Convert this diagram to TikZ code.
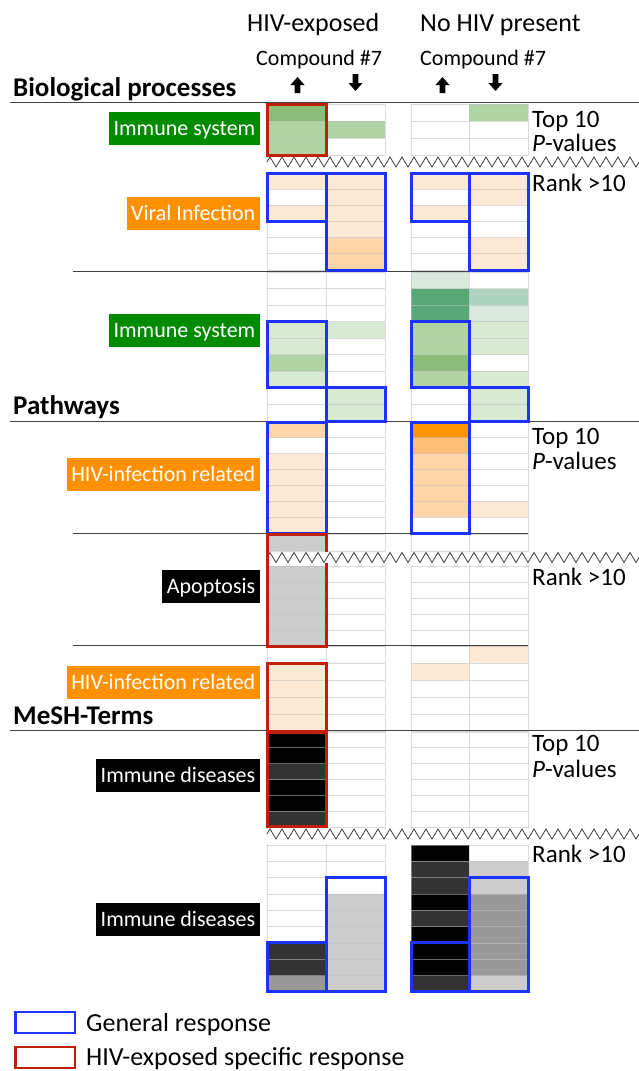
\documentclass[tikz,border=0pt]{standalone}
\usepackage{fontspec}
\setmainfont{Carlito}
\usetikzlibrary{decorations.pathmorphing}
\definecolor{gA}{HTML}{D9EAD3}
\definecolor{gB}{HTML}{B0D4A4}
\definecolor{gC}{HTML}{8BBC78}
\definecolor{gD}{HTML}{57A777}
\definecolor{gE}{HTML}{AED3BF}
\definecolor{gF}{HTML}{D9E9DE}
\definecolor{oA}{HTML}{FDE9D4}
\definecolor{oB}{HTML}{FDD5A8}
\definecolor{oC}{HTML}{FFBF7A}
\definecolor{oD}{HTML}{FF9400}
\definecolor{kA}{HTML}{CCCCCC}
\definecolor{kB}{HTML}{999999}
\definecolor{kC}{HTML}{333333}
\definecolor{kD}{HTML}{000000}
\definecolor{labgreen}{HTML}{008A00}
\definecolor{laborange}{HTML}{FF9100}
\definecolor{bluebox}{HTML}{1E32FF}
\definecolor{redbox}{HTML}{C0200A}
\definecolor{gridc}{HTML}{BEBEBE}
\definecolor{sepc}{HTML}{404040}
\def\colLi{267}\def\colRi{326}
\def\colLii{326}\def\colRii{385}
\def\colLiii{411}\def\colRiii{469}
\def\colLiv{469}\def\colRiv{528}
% sections: top y, row height, number of rows
\def\syA{104}\def\shA{17}\def\snA{3}
\def\syB{173}\def\shB{16.17}\def\snB{6}
\def\syC{272}\def\shC{16.56}\def\snC{9}
\def\syD{422}\def\shD{15.86}\def\snD{7}
\def\syP{534}\def\shP{17}\def\snP{1}
\def\syE{566}\def\shE{16}\def\snE{5}
\def\syF{646}\def\shF{17}\def\snF{5}
\def\syG{732}\def\shG{15.83}\def\snG{6}
\def\syH{845}\def\shH{16.33}\def\snH{9}
\newcommand\cf[4]{%
  \pgfmathsetmacro\cya{\csname sy#3\endcsname+(#2-1)*\csname sh#3\endcsname}%
  \pgfmathsetmacro\cyb{\cya+\csname sh#3\endcsname}%
  \fill[#4] (\csname colL\romannumeral#1\endcsname,\cya) rectangle (\csname colR\romannumeral#1\endcsname,\cyb);}
\newcommand\bx[5]{%
  \pgfmathsetmacro\cya{\csname sy#4\endcsname+(#2-1)*\csname sh#4\endcsname}%
  \pgfmathsetmacro\cyb{\csname sy#4\endcsname+#3*\csname sh#4\endcsname}%
  \draw[#5] (\csname colL\romannumeral#1\endcsname,\cya) rectangle (\csname colR\romannumeral#1\endcsname,\cyb);}
\newcommand\sgrid[1]{%
  \edef\gn{\csname sn#1\endcsname}%
  \foreach \gi in {0,...,\gn}{%
    \pgfmathsetmacro\gy{\csname sy#1\endcsname+\gi*\csname sh#1\endcsname}%
    \draw[gridline] (267,\gy) -- (385,\gy) (411,\gy) -- (528,\gy);}}
\newcommand\uparr[1]{\fill (#1-7,85) -- (#1,77) -- (#1+7,85) -- (#1+2.8,85) -- (#1+2.8,93) -- (#1-2.8,93) -- (#1-2.8,85) -- cycle;}
\newcommand\dnarr[1]{\fill (#1-7,83) -- (#1,91) -- (#1+7,83) -- (#1+2.8,83) -- (#1+2.8,74) -- (#1-2.8,74) -- (#1-2.8,83) -- cycle;}
\tikzset{
  gridline/.style={draw=gridc, draw opacity=0.55, line width=0.8},
  sepline/.style={draw=sepc, line width=1},
  bluerect/.style={draw=bluebox, line width=3},
  redrect/.style={draw=redbox, line width=3},
  zig/.style={draw=sepc, line width=0.8, decorate, decoration={zigzag, segment length=12, amplitude=5}},
  lab/.style={anchor=east, inner xsep=4.5, inner ysep=0, minimum height=33, text=white,
    font=\fontsize{22}{24}\selectfont, text height=14, text depth=0},
  txt/.style={inner sep=0, anchor=base west},
  head/.style={txt, font=\fontsize{26}{28}\selectfont},
  comp/.style={txt, font=\fontsize{22}{24}\selectfont},
  sect/.style={txt, font=\fontsize{27}{29}\selectfont\bfseries},
  side/.style={txt, font=\fontsize{25}{27}\selectfont},
  leg/.style={txt, font=\fontsize{26}{28}\selectfont},
}
\begin{document}
\begin{tikzpicture}[x=1pt,y=-1pt]
\useasboundingbox (0,0) rectangle (639,1071);
\fill[white] (0,0) rectangle (639,1071);
% ---------- cell fills ----------
\cf{1}{1}{A}{gC}\cf{1}{2}{A}{gB}\cf{1}{3}{A}{gB}\cf{2}{2}{A}{gB}\cf{4}{1}{A}{gB}
\cf{1}{1}{B}{oA}\cf{1}{3}{B}{oA}
\foreach \r in {1,...,4}{\cf{2}{\r}{B}{oA}}
\cf{2}{5}{B}{oB}\cf{2}{6}{B}{oB}
\cf{3}{1}{B}{oA}\cf{3}{3}{B}{oA}
\foreach \r in {1,2,5,6}{\cf{4}{\r}{B}{oA}}
\cf{1}{4}{C}{gA}\cf{1}{5}{C}{gA}\cf{1}{6}{C}{gB}\cf{1}{7}{C}{gA}
\foreach \r in {4,8,9}{\cf{2}{\r}{C}{gA}}
\cf{3}{1}{C}{gF}\cf{3}{2}{C}{gD}\cf{3}{3}{C}{gD}\cf{3}{4}{C}{gB}\cf{3}{5}{C}{gB}\cf{3}{6}{C}{gC}\cf{3}{7}{C}{gB}
\cf{4}{2}{C}{gE}\cf{4}{3}{C}{gF}
\foreach \r in {4,5,7,8,9}{\cf{4}{\r}{C}{gA}}
\cf{1}{1}{D}{oB}
\foreach \r in {3,...,7}{\cf{1}{\r}{D}{oA}}
\cf{3}{1}{D}{oD}\cf{3}{2}{D}{oC}
\foreach \r in {3,...,6}{\cf{3}{\r}{D}{oB}}
\cf{4}{6}{D}{oA}
\cf{1}{1}{P}{kA}
\foreach \r in {1,...,5}{\cf{1}{\r}{E}{kA}}
\cf{4}{1}{F}{oA}\cf{3}{2}{F}{oA}
\foreach \r in {2,...,5}{\cf{1}{\r}{F}{oA}}
\cf{1}{1}{G}{kD}\cf{1}{2}{G}{kD}\cf{1}{3}{G}{kC}\cf{1}{4}{G}{kD}\cf{1}{5}{G}{kD}\cf{1}{6}{G}{kC}
\cf{1}{7}{H}{kC}\cf{1}{8}{H}{kC}\cf{1}{9}{H}{kB}
\foreach \r in {4,...,9}{\cf{2}{\r}{H}{kA}}
\cf{3}{1}{H}{kD}\cf{3}{2}{H}{kC}\cf{3}{3}{H}{kC}\cf{3}{4}{H}{kD}\cf{3}{5}{H}{kC}
\cf{3}{6}{H}{kD}\cf{3}{7}{H}{kD}\cf{3}{8}{H}{kD}\cf{3}{9}{H}{kC}
\cf{4}{2}{H}{kA}\cf{4}{3}{H}{kA}
\foreach \r in {4,...,8}{\cf{4}{\r}{H}{kB}}
\cf{4}{9}{H}{kA}
% ---------- grid ----------
\foreach \s in {A,B,C,D,P,E,F,G,H}{\sgrid{\s}}
\foreach \gx in {267,326,385,411,469,528}{\draw[gridline] (\gx,104) -- (\gx,992);}
% ---------- section lines ----------
\draw[sepline] (10,102.5) -- (639,102.5);
\draw[sepline] (73,271.3) -- (528,271.3);
\draw[sepline] (10,421.5) -- (639,421.5);
\draw[sepline] (73,533.8) -- (528,533.8);
\draw[sepline] (73,645.8) -- (528,645.8);
\draw[sepline] (10,730.7) -- (639,730.7);
% ---------- zigzags ----------
\fill[white] (262,155.5) rectangle (639,172);
\fill[white] (262,551.5) rectangle (639,565);
\fill[white] (262,828.5) rectangle (639,844);
\draw[zig] (267,162) -- (639,162);
\draw[zig] (267,557.5) -- (639,557.5);
\draw[zig] (267,834) -- (639,834);
% ---------- response boxes ----------
\bx{1}{1}{3}{A}{redrect}
\bx{1}{1}{3}{B}{bluerect}\bx{2}{1}{6}{B}{bluerect}\bx{3}{1}{3}{B}{bluerect}\bx{4}{1}{6}{B}{bluerect}
\bx{1}{4}{7}{C}{bluerect}\bx{2}{8}{9}{C}{bluerect}\bx{3}{4}{7}{C}{bluerect}\bx{4}{8}{9}{C}{bluerect}
\bx{1}{1}{7}{D}{bluerect}\bx{3}{1}{7}{D}{bluerect}
\draw[redrect] (326,551.5) -- (326,534) -- (267,534) -- (267,646) -- (326,646) -- (326,563);
\bx{1}{2}{5}{F}{redrect}
\bx{1}{1}{6}{G}{redrect}
\bx{1}{7}{9}{H}{bluerect}\bx{2}{3}{9}{H}{bluerect}\bx{3}{7}{9}{H}{bluerect}\bx{4}{3}{9}{H}{bluerect}
% ---------- headings ----------
\node[head] (hexp) at (247,31) {HIV-exposed};
\node[head] (hno) at (420,31) {No HIV present};
\node[comp] (cmpA) at (256,65) {Compound \#7};
\node[comp] (cmpB) at (420,65) {Compound \#7};
\uparr{297.5}\dnarr{355.5}\uparr{442.5}\dnarr{495.5}
\node[sect] (sbp) at (13,96) {Biological processes};
\node[sect] (spw) at (13,414) {Pathways};
\node[sect] (smt) at (13,724) {MeSH-Terms};
% ---------- category labels ----------
\node[lab, fill=labgreen] (l1) at (260,128) {Immune system};
\node[lab, fill=laborange] (l2) at (260,213.5) {Viral Infection};
\node[lab, fill=labgreen] (l3) at (260,330) {Immune system};
\node[lab, fill=laborange] (l4) at (260,474) {HIV-infection related};
\node[lab, fill=black] (l5) at (260,586.5) {Apoptosis};
\node[lab, fill=laborange] (l6) at (260,682) {HIV-infection related};
\node[lab, fill=black] (l7) at (260,775) {Immune diseases};
\node[lab, fill=black] (l8) at (260,919.5) {Immune diseases};
% ---------- side labels ----------
\node[side] (t1) at (532,127) {Top 10};
\node[side] (p1) at (532,151) {\textit{P}-values};
\node[side] (r1) at (532,191) {Rank >10};
\node[side] (t2) at (532,444) {Top 10};
\node[side] (p2) at (532,469) {\textit{P}-values};
\node[side] (r2) at (532,585) {Rank >10};
\node[side] (t3) at (532,751) {Top 10};
\node[side] (p3) at (532,777) {\textit{P}-values};
\node[side] (r3) at (532,862) {Rank >10};
% ---------- legend ----------
\draw[draw=bluebox, line width=2.5] (15.5,1012) rectangle (75,1033);
\node[leg] (lg1) at (86,1031) {General response};
\draw[draw=redbox, line width=2.5] (15.5,1047) rectangle (75,1068);
\node[leg] (lg2) at (86,1065) {HIV-exposed specific response};
\end{tikzpicture}
\end{document}
